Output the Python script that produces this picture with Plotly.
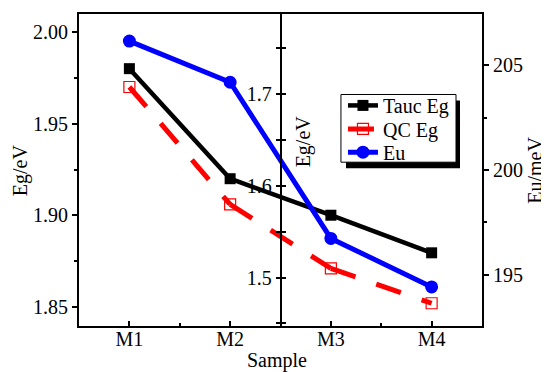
import plotly.graph_objects as go

# ---- data ----
samples = ["M1", "M2", "M3", "M4"]
sample_pos = [1, 2, 3, 4]
tauc_eg = [1.980, 1.920, 1.568, 1.527]   # M1,M2 on left axis; M3,M4 on middle axis
qc_eg = [1.970, 1.906, 1.510, 1.472]
eu_mev = [206.14, 204.18, 196.74, 194.43]

# axis ranges
left_range = [1.8397, 2.0098]
mid_range = [1.4472, 1.7874]
right_range = [192.57, 207.43]
x_range = [0.5, 4.5]


def mid_to_left(v):
    # express a middle-axis value in left-axis units (same pixel position)
    return left_range[0] + (v - mid_range[0]) / (mid_range[1] - mid_range[0]) * (left_range[1] - left_range[0])


FONT = "Liberation Serif, Times New Roman, Times, serif"
BLACK = "#000000"
RED = "#ff0000"
BLUE = "#0000ff"

fig = go.Figure()

tauc_marker = dict(symbol="square", size=11, color=BLACK)
tauc_line = dict(color=BLACK, width=4.5)
qc_marker = dict(symbol="square-open", size=11, color=RED, line=dict(width=1.2, color=RED))
qc_line = dict(color=RED, width=5, dash="26px,22px")

# connectors M2 -> M3 (left axis -> middle axis)
fig.add_trace(go.Scatter(x=[sample_pos[1], sample_pos[2]], y=[tauc_eg[1], mid_to_left(tauc_eg[2])],
                         mode="lines", line=tauc_line, yaxis="y", showlegend=False, hoverinfo="skip"))
fig.add_trace(go.Scatter(x=[sample_pos[1], sample_pos[2]], y=[qc_eg[1], mid_to_left(qc_eg[2])],
                         mode="lines", line=qc_line, yaxis="y", showlegend=False, hoverinfo="skip"))

# left-axis parts (M1, M2)
fig.add_trace(go.Scatter(x=sample_pos[:2], y=tauc_eg[:2], mode="lines+markers", name="Tauc Eg",
                         line=tauc_line, marker=tauc_marker, yaxis="y", legend="legend"))
fig.add_trace(go.Scatter(x=sample_pos[:2], y=qc_eg[:2], mode="lines+markers", name="QC Eg",
                         line=qc_line, marker=qc_marker, yaxis="y", legend="legend2"))

# middle-axis parts (M3, M4)
fig.add_trace(go.Scatter(x=sample_pos[2:], y=tauc_eg[2:], mode="lines+markers", name="Tauc Eg",
                         line=tauc_line, marker=tauc_marker, yaxis="y2", showlegend=False))
fig.add_trace(go.Scatter(x=sample_pos[2:], y=qc_eg[2:], mode="lines+markers", name="QC Eg",
                         line=qc_line, marker=qc_marker, yaxis="y2", showlegend=False))
# invisible helper so the right-side ticks of the middle axis are drawn
fig.add_trace(go.Scatter(x=sample_pos[2:], y=tauc_eg[2:], mode="markers", marker=dict(opacity=0),
                         yaxis="y4", showlegend=False, hoverinfo="skip"))

# ---- Eu ----
fig.add_trace(go.Scatter(x=sample_pos, y=eu_mev, mode="lines+markers", name="Eu",
                         line=dict(color=BLUE, width=5),
                         marker=dict(symbol="circle", size=13, color=BLUE), yaxis="y3",
                         legend="legend3"))

tickfont = dict(family=FONT, size=20, color=BLACK)
legfont = dict(family=FONT, size=20, color=BLACK)


def leg(y):
    return dict(x=0.655, y=y, xanchor="left", yanchor="middle", bgcolor="rgba(0,0,0,0)",
                borderwidth=0, font=legfont, itemwidth=30)


fig.update_layout(
    width=541, height=364,
    margin=dict(l=71, r=67, t=4, b=46),
    paper_bgcolor="white", plot_bgcolor="white",
    font=dict(family=FONT, size=20, color=BLACK),
    xaxis=dict(range=x_range, tickvals=sample_pos, ticktext=samples, ticks="inside",
               ticklen=5, tickwidth=1.5, tickcolor=BLACK, showline=True, linewidth=2,
               linecolor=BLACK, mirror=True, showgrid=False, zeroline=False, tickfont=tickfont,
               minor=dict(tickvals=[1.5, 2.5, 3.5], ticks="inside", ticklen=3, tickcolor=BLACK)),
    yaxis=dict(range=left_range, dtick=0.05, tick0=1.85, tickformat=".2f", ticks="outside",
               ticklen=5, tickwidth=1.5, tickcolor=BLACK, showline=True, linewidth=2,
               linecolor=BLACK, showgrid=False, zeroline=False, tickfont=tickfont,
               minor=dict(dtick=0.025, ticks="outside", ticklen=3, tickcolor=BLACK)),
    yaxis2=dict(range=mid_range, dtick=0.1, tick0=1.5, tickformat=".1f", overlaying="y",
                anchor="free", position=0.5, side="left", ticks="outside", ticklen=4,
                tickwidth=1.5, tickcolor=BLACK, showline=True, linewidth=1.5, linecolor=BLACK,
                showgrid=False, zeroline=False, tickfont=tickfont,
                minor=dict(dtick=0.05, ticks="outside", ticklen=4, tickcolor=BLACK)),
    yaxis4=dict(range=mid_range, dtick=0.1, tick0=1.5, overlaying="y", anchor="free",
                position=0.5, side="right", ticks="outside", ticklen=4, tickwidth=1.5,
                tickcolor=BLACK, showline=False, showticklabels=False, showgrid=False,
                zeroline=False,
                minor=dict(dtick=0.05, ticks="outside", ticklen=4, tickcolor=BLACK)),
    yaxis3=dict(range=right_range, dtick=5, tick0=195, overlaying="y", anchor="x", side="right",
                ticks="outside", ticklen=5, tickwidth=1.5, tickcolor=BLACK, showline=True,
                linewidth=2, linecolor=BLACK, showgrid=False, zeroline=False, tickfont=tickfont,
                minor=dict(dtick=2.5, ticks="outside", ticklen=3, tickcolor=BLACK)),
    legend=leg(0.707),
    legend2=leg(0.6315),
    legend3=leg(0.557),
    showlegend=True,
)

# pull the x tick labels a little closer to the axis, if supported
try:
    fig.update_xaxes(ticklabelstandoff=-6)
except Exception:
    pass

# legend frame with drop shadow
fig.add_shape(type="rect", xref="paper", yref="paper", x0=0.6625, x1=0.9454, y0=0.506, y1=0.723,
              fillcolor=BLACK, line=dict(width=0), layer="above")
fig.add_shape(type="rect", xref="paper", yref="paper", x0=0.650, x1=0.9355, y0=0.525, y1=0.742,
              fillcolor="white", line=dict(width=1, color=BLACK), layer="above")

# axis titles
title_font = dict(family=FONT, size=20, color=BLACK)
fig.add_annotation(text="Eg/eV", xref="paper", yref="paper", x=-0.146, y=0.5, textangle=-90,
                   xanchor="center", yanchor="middle", showarrow=False, font=title_font,
                   borderpad=0)
fig.add_annotation(text="Eg/eV", xref="paper", yref="paper", x=0.556, y=0.592, textangle=-90,
                   xanchor="center", yanchor="middle", showarrow=False, font=title_font)
fig.add_annotation(text="Eu/meV", xref="paper", yref="paper", x=1.131, y=0.5, textangle=-90,
                   xanchor="center", yanchor="middle", showarrow=False, font=title_font,
                   borderpad=0)
fig.add_annotation(text="Sample", xref="paper", yref="paper", x=0.491, y=-0.111,
                   xanchor="center", yanchor="middle", showarrow=False, font=title_font)

fig.write_html("out.html")
